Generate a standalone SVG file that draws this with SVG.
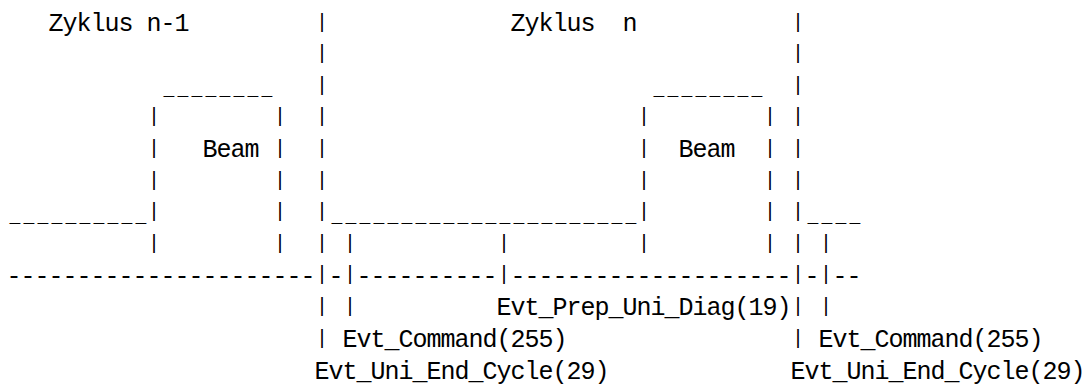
<svg xmlns="http://www.w3.org/2000/svg" width="1084" height="385" viewBox="0 0 1084 385">
<style>
text{font-family:"Liberation Mono","DejaVu Sans Mono",monospace;font-size:25px;letter-spacing:-1px;fill:#000}
.p{font-size:20px;letter-spacing:2px}
.u{font-size:18px;letter-spacing:3.2px}
</style>
<rect width="1084" height="385" fill="#fff"/>
<g id="row-labels">
<text y="31"><tspan x="48.5">Zyklus n-1</tspan><tspan class="p" x="316" y="27.5">|</tspan><tspan x="510.5" y="31">Zyklus</tspan><tspan x="622.5" y="31">n</tspan><tspan class="p" x="792" y="27.5">|</tspan></text>
</g>
<g id="row-1">
<text class="p" y="59.1"><tspan x="316">|</tspan><tspan x="792">|</tspan></text>
</g>
<g id="row-beam-top">
<text y="95.2"><tspan class="u" x="163.5">________</tspan><tspan class="p" x="316" y="90.7">|</tspan><tspan class="u" x="653.5" y="95.2">________</tspan><tspan class="p" x="792" y="90.7">|</tspan></text>
</g>
<g id="row-3">
<text class="p" y="122.3"><tspan x="148">|</tspan><tspan x="274">|</tspan><tspan x="316">|</tspan><tspan x="638">|</tspan><tspan x="764">|</tspan><tspan x="792">|</tspan></text>
</g>
<g id="row-beam-label">
<text y="153.9"><tspan class="p" x="148">|</tspan><tspan x="202.5" y="157.4">Beam</tspan><tspan class="p" x="274" y="153.9">|</tspan><tspan class="p" x="316">|</tspan><tspan class="p" x="638">|</tspan><tspan x="678.5" y="157.4">Beam</tspan><tspan class="p" x="764" y="153.9">|</tspan><tspan class="p" x="792">|</tspan></text>
</g>
<g id="row-5">
<text class="p" y="185.5"><tspan x="148">|</tspan><tspan x="274">|</tspan><tspan x="316">|</tspan><tspan x="638">|</tspan><tspan x="764">|</tspan><tspan x="792">|</tspan></text>
</g>
<g id="row-signal">
<text y="221.6"><tspan class="u" x="9.5">__________</tspan><tspan class="p" x="148" y="217.1">|</tspan><tspan class="p" x="274">|</tspan><tspan class="p" x="316">|</tspan><tspan class="u" x="331.5" y="221.6">______________________</tspan><tspan class="p" x="638" y="217.1">|</tspan><tspan class="p" x="764">|</tspan><tspan class="p" x="792">|</tspan><tspan class="u" x="807.5" y="221.6">____</tspan></text>
</g>
<g id="row-markers">
<text class="p" y="248.7"><tspan x="148">|</tspan><tspan x="274">|</tspan><tspan x="316">|</tspan><tspan x="344">|</tspan><tspan x="498">|</tspan><tspan x="638">|</tspan><tspan x="764">|</tspan><tspan x="792">|</tspan><tspan x="820">|</tspan></text>
</g>
<g id="row-axis">
<text y="283.8"><tspan x="6.5">----------------------</tspan><tspan class="p" x="316" y="280.3">|</tspan><tspan x="328.5" y="283.8">-</tspan><tspan class="p" x="344" y="280.3">|</tspan><tspan x="356.5" y="283.8">----------</tspan><tspan class="p" x="498" y="280.3">|</tspan><tspan x="510.5" y="283.8">--------------------</tspan><tspan class="p" x="792" y="280.3">|</tspan><tspan x="804.5" y="283.8">-</tspan><tspan class="p" x="820" y="280.3">|</tspan><tspan x="832.5" y="283.8">--</tspan></text>
</g>
<g id="row-events-1">
<text y="311.9"><tspan class="p" x="316">|</tspan><tspan class="p" x="344">|</tspan><tspan x="496.5" y="315.4">Evt_Prep_Uni_Diag(19)</tspan><tspan class="p" x="792" y="311.9">|</tspan><tspan class="p" x="820">|</tspan></text>
</g>
<g id="row-events-2">
<text y="343.5"><tspan class="p" x="316">|</tspan><tspan x="342.5" y="347">Evt_Command(255)</tspan><tspan class="p" x="792" y="343.5">|</tspan><tspan x="818.5" y="347">Evt_Command(255)</tspan></text>
</g>
<g id="row-events-3">
<text y="378.6"><tspan x="314.5">Evt_Uni_End_Cycle(29)</tspan><tspan x="790.5">Evt_Uni_End_Cycle(29)</tspan></text>
</g>
</svg>
